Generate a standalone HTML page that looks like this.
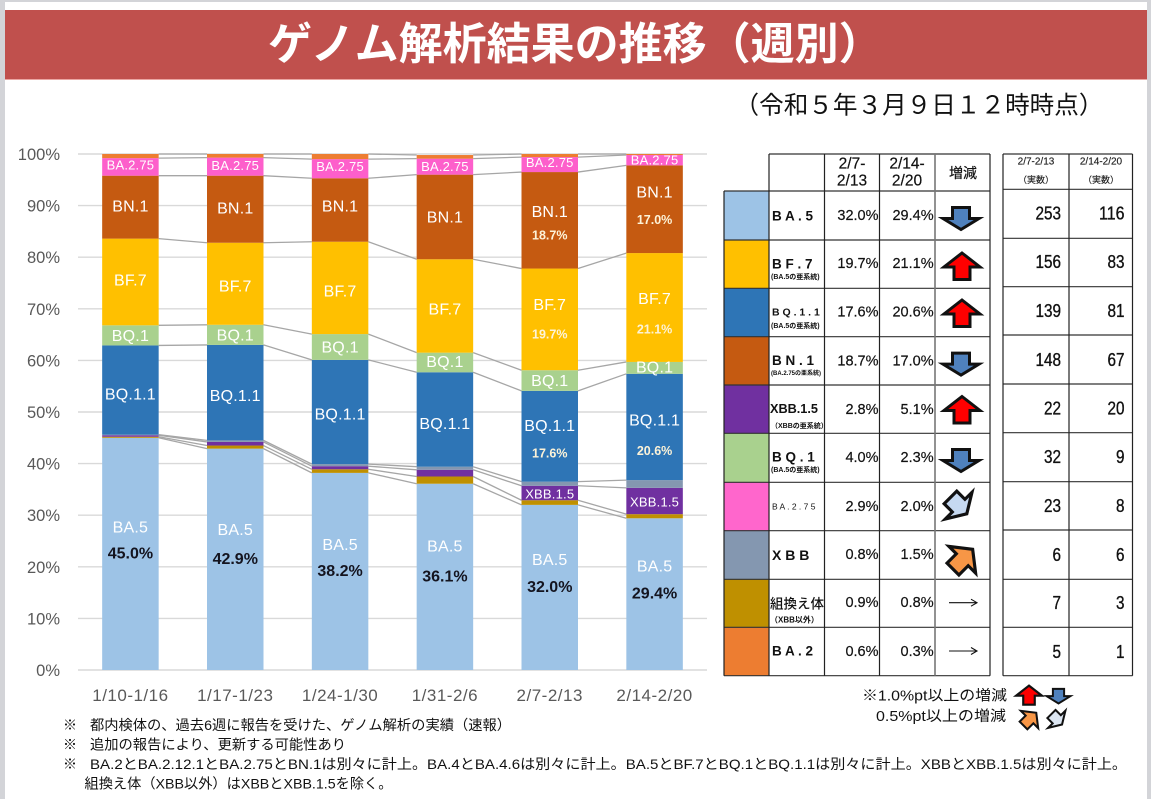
<!DOCTYPE html>
<html lang="ja">
<head>
<meta charset="utf-8">
<title>ゲノム解析結果の推移（週別）</title>
<style>
html,body{margin:0;padding:0;background:#fff;width:1151px;height:799px;overflow:hidden}
svg{display:block;font-family:"Liberation Sans","Noto Sans CJK JP",sans-serif}
text{dominant-baseline:central;transform:translateY(1px)}
.pct{font-size:14.5px;fill:#111;text-anchor:end;stroke:#111;stroke-width:.2}
.cnt{font-size:18.5px;fill:#111;text-anchor:end;stroke:#111;stroke-width:.35}
.nm{font-size:13.5px;fill:#111;font-weight:700}
.sub{font-size:7px;fill:#111;font-weight:700}
.note{font-size:14px;fill:#111}
.hd{font-size:15.5px;fill:#111;text-anchor:middle;stroke:#111;stroke-width:.2}
.hd2{font-size:10px;fill:#222;text-anchor:middle;stroke:#222;stroke-width:.15}
.gl{stroke:#333;stroke-width:1.2}
.gv{stroke:#222;stroke-width:1.2}
</style>
</head>
<body>
<svg id="root" width="1151" height="799" viewBox="0 0 1151 799" xmlns="http://www.w3.org/2000/svg">
  <defs>
    <path id="a-down" d="M-8.5,-11.5 H8.5 V-.5 H18 L0,10.5 L-18,-.5 H-8.5 Z" stroke="#111" stroke-width="3" stroke-linejoin="miter"/>
    <path id="a-up" d="M0,-13 L18,1 H8 V13.5 H-8 V1 H-18 Z" stroke="#111" stroke-width="3" stroke-linejoin="miter"/>
    <path id="a-thin" d="M-14,0 H13 M8,-3.5 L14,0 L8,3.5" fill="none" stroke="#111" stroke-width="1.1"/>
  </defs>

  <rect x="0" y="0" width="1151" height="799" fill="#fff"/>
  <rect x="0" y="0" width="5" height="799" fill="#d3d4d8"/>
  <rect x="1147" y="0" width="4" height="799" fill="#d3d4d8"/>
  <rect x="0" y="0" width="1151" height="2" fill="#d3d4d8"/>

  <rect x="5" y="10" width="1142" height="69" fill="#c0504d"/>
  <rect x="5" y="79" width="1142" height="1" fill="#eba6a3"/>
  <text x="268" y="43.5" font-size="44" font-weight="700" fill="#fff">ゲノム解析結果の推移（週別）</text>
  <text x="919" y="105" font-size="24.6" fill="#111" text-anchor="middle">（令和５年３月９日１２時時点）</text>

  <g id="chart"></g>

  <!-- share table -->
  <g>
    <rect x="724" y="191" width="45" height="49" fill="#9dc3e6"/>
    <rect x="724" y="240" width="45" height="48.3" fill="#ffc000"/>
    <rect x="724" y="288.3" width="45" height="48.4" fill="#2e75b6"/>
    <rect x="724" y="336.7" width="45" height="48.3" fill="#c55a11"/>
    <rect x="724" y="385" width="45" height="48.3" fill="#7030a0"/>
    <rect x="724" y="433.3" width="45" height="49" fill="#a9d18e"/>
    <rect x="724" y="482.3" width="45" height="48.4" fill="#ff66cc"/>
    <rect x="724" y="530.7" width="45" height="48.6" fill="#8497b0"/>
    <rect x="724" y="579.3" width="45" height="48" fill="#bf9000"/>
    <rect x="724" y="627.3" width="45" height="48.4" fill="#ed7d31"/>

    <path class="gl" d="M769,154 H990 M724,191 H990 M724,240 H990 M724,288.3 H990 M724,336.7 H990 M724,385 H990 M724,433.3 H990 M724,482.3 H990 M724,530.7 H990 M724,579.3 H990 M724,627.3 H990 M724,675.7 H990" fill="none"/>
    <path class="gv" d="M724,191 V675.7 M769,154 V675.7 M824.5,154 V675.7 M879.5,154 V675.7 M990,154 V675.7" fill="none"/>
    <path d="M935,154 V675.7" stroke="#777" stroke-width="1.6" fill="none"/>

    <text class="hd" x="852" y="163">2/7-</text>
    <text class="hd" x="852" y="180">2/13</text>
    <text class="hd" x="907" y="163">2/14-</text>
    <text class="hd" x="907" y="180">2/20</text>
    <text class="hd" x="963" y="172" style="font-size:14px">増減</text>

    <text class="nm" x="772" y="215" xml:space="preserve">B A . 5</text>
    <text class="nm" x="772" y="263" xml:space="preserve">B F . 7</text>
    <text class="sub" x="771" y="276.5">(BA.5の亜系統)</text>
    <text class="nm" x="772" y="311.7" style="font-size:10.5px" xml:space="preserve">B Q . 1 . 1</text>
    <text class="sub" x="771" y="325.7">(BA.5の亜系統)</text>
    <text class="nm" x="772" y="359.7" xml:space="preserve">B N . 1</text>
    <text class="sub" x="771" y="373" style="font-size:6px">(BA.2.75の亜系統)</text>
    <text class="nm" x="770" y="408" style="font-size:12.7px">XBB.1.5</text>
    <text class="sub" x="771" y="425.7">（XBBの亜系統）</text>
    <text class="nm" x="772" y="456" xml:space="preserve">B Q . 1</text>
    <text class="sub" x="771" y="469.7">(BA.5の亜系統)</text>
    <text class="nm" x="772" y="505.7" style="font-size:8.5px;font-weight:400" xml:space="preserve">B A . 2 . 7 5</text>
    <text class="nm" x="772" y="554" style="font-size:14px" xml:space="preserve">X B B</text>
    <text class="nm" x="770" y="603" style="font-weight:500">組換え体</text>
    <text class="sub" x="770" y="619" style="font-size:8px">（XBB以外）</text>
    <text class="nm" x="772" y="650" xml:space="preserve">B A . 2</text>

    <text class="pct" x="878.5" y="215">32.0%</text>
    <text class="pct" x="933.6" y="215">29.4%</text>
    <text class="pct" x="878.5" y="263">19.7%</text>
    <text class="pct" x="933.6" y="263">21.1%</text>
    <text class="pct" x="878.5" y="311.7">17.6%</text>
    <text class="pct" x="933.6" y="311.7">20.6%</text>
    <text class="pct" x="878.5" y="360.7">18.7%</text>
    <text class="pct" x="933.6" y="360.7">17.0%</text>
    <text class="pct" x="878.5" y="409">2.8%</text>
    <text class="pct" x="933.6" y="409">5.1%</text>
    <text class="pct" x="878.5" y="457">4.0%</text>
    <text class="pct" x="933.6" y="457">2.3%</text>
    <text class="pct" x="878.5" y="506">2.9%</text>
    <text class="pct" x="933.6" y="506">2.0%</text>
    <text class="pct" x="878.5" y="554">0.8%</text>
    <text class="pct" x="933.6" y="554">1.5%</text>
    <text class="pct" x="878.5" y="602">0.9%</text>
    <text class="pct" x="933.6" y="602">0.8%</text>
    <text class="pct" x="878.5" y="651">0.6%</text>
    <text class="pct" x="933.6" y="651">0.3%</text>

    <use href="#a-down" transform="translate(961,219)" fill="#4f81bd"/>
    <use href="#a-up" transform="translate(962,266)" fill="#ff0000"/>
    <use href="#a-up" transform="translate(962,313)" fill="#ff0000"/>
    <use href="#a-down" transform="translate(961,364.6)" fill="#4f81bd"/>
    <use href="#a-up" transform="translate(962,409.5)" fill="#ff0000"/>
    <use href="#a-down" transform="translate(961,461)" fill="#4f81bd"/>
    <use href="#a-down" transform="translate(959,506) rotate(-45) scale(1.05)" fill="#c6d9f1"/>
    <use href="#a-up" transform="translate(963,559) rotate(45) scale(1.05)" fill="#f79646"/>
    <use href="#a-thin" transform="translate(963,602.7)"/>
    <use href="#a-thin" transform="translate(963,651)"/>
  </g>

  <!-- count table -->
  <g>
    <path class="gl" d="M1003,154 H1132.5 M1003,189.3 H1132.5 M1003,238.3 H1132.5 M1003,286.7 H1132.5 M1003,335 H1132.5 M1003,384 H1132.5 M1003,432.7 H1132.5 M1003,481.7 H1132.5 M1003,530 H1132.5 M1003,579.3 H1132.5 M1003,627.3 H1132.5 M1003,675.7 H1132.5" fill="none"/>
    <path class="gv" d="M1003,154 V675.7 M1069,154 V675.7 M1132.5,154 V675.7" fill="none"/>
    <text class="hd2" x="1036" y="161">2/7-2/13</text>
    <text class="hd2" x="1036" y="179" style="font-size:9px">（実数）</text>
    <text class="hd2" x="1101" y="161">2/14-2/20</text>
    <text class="hd2" x="1101" y="179" style="font-size:9px">（実数）</text>

    <text class="cnt" x="1061" y="212" textLength="25.5" lengthAdjust="spacingAndGlyphs">253</text>
    <text class="cnt" x="1124.5" y="212" textLength="25.5" lengthAdjust="spacingAndGlyphs">116</text>
    <text class="cnt" x="1061" y="260.7" textLength="25.5" lengthAdjust="spacingAndGlyphs">156</text>
    <text class="cnt" x="1124.5" y="260.7" textLength="17" lengthAdjust="spacingAndGlyphs">83</text>
    <text class="cnt" x="1061" y="309.7" textLength="25.5" lengthAdjust="spacingAndGlyphs">139</text>
    <text class="cnt" x="1124.5" y="309.7" textLength="17" lengthAdjust="spacingAndGlyphs">81</text>
    <text class="cnt" x="1061" y="358.3" textLength="25.5" lengthAdjust="spacingAndGlyphs">148</text>
    <text class="cnt" x="1124.5" y="358.3" textLength="17" lengthAdjust="spacingAndGlyphs">67</text>
    <text class="cnt" x="1061" y="407" textLength="17" lengthAdjust="spacingAndGlyphs">22</text>
    <text class="cnt" x="1124.5" y="407" textLength="17" lengthAdjust="spacingAndGlyphs">20</text>
    <text class="cnt" x="1061" y="455.7" textLength="17" lengthAdjust="spacingAndGlyphs">32</text>
    <text class="cnt" x="1124.5" y="455.7" textLength="8.5" lengthAdjust="spacingAndGlyphs">9</text>
    <text class="cnt" x="1061" y="504.7" textLength="17" lengthAdjust="spacingAndGlyphs">23</text>
    <text class="cnt" x="1124.5" y="504.7" textLength="8.5" lengthAdjust="spacingAndGlyphs">8</text>
    <text class="cnt" x="1061" y="553.3" textLength="8.5" lengthAdjust="spacingAndGlyphs">6</text>
    <text class="cnt" x="1124.5" y="553.3" textLength="8.5" lengthAdjust="spacingAndGlyphs">6</text>
    <text class="cnt" x="1061" y="601.7" textLength="8.5" lengthAdjust="spacingAndGlyphs">7</text>
    <text class="cnt" x="1124.5" y="601.7" textLength="8.5" lengthAdjust="spacingAndGlyphs">3</text>
    <text class="cnt" x="1061" y="650.7" textLength="8.5" lengthAdjust="spacingAndGlyphs">5</text>
    <text class="cnt" x="1124.5" y="650.7" textLength="8.5" lengthAdjust="spacingAndGlyphs">1</text>
  </g>

  <!-- arrow key -->
  <g>
    <text x="862" y="695.5" font-size="14.5" fill="#111" textLength="145" lengthAdjust="spacingAndGlyphs">※1.0%pt以上の増減</text>
    <use href="#a-up" transform="translate(1029,695) scale(.72)" fill="#ff0000"/>
    <use href="#a-down" transform="translate(1058.5,696.5) scale(.66)" fill="#4f81bd"/>
    <text x="876" y="716" font-size="14.5" fill="#111" textLength="130" lengthAdjust="spacingAndGlyphs">0.5%pt以上の増減</text>
    <use href="#a-up" transform="translate(1030,719) rotate(45) scale(.68)" fill="#f79646"/>
    <use href="#a-down" transform="translate(1057,719.5) rotate(-45) scale(.68)" fill="#dce6f2"/>
  </g>

  <!-- footnotes -->
  <g>
    <text class="note" x="63" y="724">※</text>
    <text class="note" x="90" y="724" textLength="421" lengthAdjust="spacingAndGlyphs">都内検体の、過去6週に報告を受けた、ゲノム解析の実績（速報）</text>
    <text class="note" x="63" y="743.5">※</text>
    <text class="note" x="90" y="743.5" textLength="256" lengthAdjust="spacingAndGlyphs">追加の報告により、更新する可能性あり</text>
    <text class="note" x="63" y="763">※</text>
    <text class="note" x="90" y="763" textLength="1037" lengthAdjust="spacingAndGlyphs">BA.2とBA.2.12.1とBA.2.75とBN.1は別々に計上。BA.4とBA.4.6は別々に計上。BA.5とBF.7とBQ.1とBQ.1.1は別々に計上。XBBとXBB.1.5は別々に計上。</text>
    <text class="note" x="84.5" y="782.5" textLength="308" lengthAdjust="spacingAndGlyphs">組換え体（XBB以外）はXBBとXBB.1.5を除く。</text>
  </g>
</svg>

<script>
// ---- chart data (percent share per week, bottom to top) ----
const categories = ['1/10-1/16', '1/17-1/23', '1/24-1/30', '1/31-2/6', '2/7-2/13', '2/14-2/20'];
const yTicks = [0, 10, 20, 30, 40, 50, 60, 70, 80, 90, 100];
const seriesNames = ['BA.5', '組換え体', 'XBB.1.5', 'XBB', 'BQ.1.1', 'BQ.1', 'BF.7', 'BN.1', 'BA.2.75', 'BA.2'];
const ba5 = [45.0, 42.9, 38.2, 36.1, 32.0, 29.4];
const recombinant = [0.2, 0.6, 0.7, 1.4, 0.9, 0.8];
const xbb15 = [0.3, 0.7, 0.6, 1.3, 2.8, 5.1];
const xbb = [0.1, 0.3, 0.4, 0.6, 0.8, 1.5];
const bq11 = [17.3, 18.5, 20.2, 18.3, 17.6, 20.6];
const bq1 = [3.9, 3.9, 5.0, 3.8, 4.0, 2.3];
const bf7 = [16.8, 15.9, 17.9, 18.1, 19.7, 21.1];
const bn1 = [12.2, 13.0, 12.3, 16.4, 18.7, 17.0];
const ba275 = [3.4, 3.5, 3.7, 3.1, 2.9, 2.0];
const ba2 = [0.8, 0.7, 1.0, 0.7, 0.6, 0.2];
const seriesValues = [ba5, recombinant, xbb15, xbb, bq11, bq1, bf7, bn1, ba275, ba2];

// ---- presentation ----
const seriesColors = ['#9dc3e6', '#bf9000', '#7030a0', '#8497b0', '#2e75b6', '#a9d18e', '#ffc000', '#c55a11', '#fd5fcb', '#ed7d31'];
const seriesSlugs = ['ba5', 'recombinant', 'xbb15', 'xbb', 'bq11', 'bq1', 'bf7', 'bn1', 'ba275', 'ba2'];
const nameNudge = {
  0: [-27, -30, -27, -31, -28, -28],
  2: [null, null, null, null, 0, 0],
  4: [4, 3, 2, 4, -11, -7],
  5: [0, 0, 0, -1, 0, -1],
  6: [-2, 2, 3, 3, -15, -9],
  7: [-1, -1, -4, 0, -9, -17],
  8: [-3, -2, -3, -1, -3, -1]
};
const pctNudge = {
  0: [-1, -1, -1, -1, -1, -1],
  4: [null, null, null, null, 16, 23],
  6: [null, null, null, null, 14, 21],
  7: [null, null, null, null, 14, 10]
};
const plotLeft = 78, plotRight = 707, plotTop = 154, plotBottom = 670, barWidth = 56.5;
const NS = 'http://www.w3.org/2000/svg';
const chart = document.getElementById('chart');

function yScale(v) { return plotBottom - (plotBottom - plotTop) * v / 100; }
function xCenter(i) { return plotLeft + (plotRight - plotLeft) * (i + 0.5) / categories.length; }
function mk(tag, attrs, parent, txt) {
  const e = document.createElementNS(NS, tag);
  for (const k in attrs) e.setAttribute(k, attrs[k]);
  if (txt !== undefined) e.textContent = txt;
  parent.appendChild(e);
  return e;
}

// gridlines and y tick labels
yTicks.forEach(function (t) {
  const line = mk('line', { x1: plotLeft, x2: plotRight, y1: yScale(t), y2: yScale(t), stroke: '#d9d9d9', 'stroke-width': 1.4 }, chart);
  
  
  const lab = mk('text', { x: 60, y: yScale(t), 'text-anchor': 'end', 'font-size': 16.5, fill: '#595959' }, chart, t + '%');
  
  
});

// cumulative tops
const tops = categories.map(function (_, c) {
  let sum = 0;
  return seriesValues.map(function (s) { sum += s[c]; return sum; });
});

// connector lines between adjacent bars
for (let c = 0; c < categories.length - 1; c++) {
  seriesValues.forEach(function (s, k) {
    const conn = mk('line', {
      x1: xCenter(c) + barWidth / 2, y1: yScale(tops[c][k]),
      x2: xCenter(c + 1) - barWidth / 2, y2: yScale(tops[c + 1][k]),
      stroke: '#a6a6a6', 'stroke-width': 1.3
    }, chart);
    
    
  });
}

// stacked bars and labels
categories.forEach(function (cat, c) {
  seriesValues.forEach(function (s, k) {
    const top = tops[c][k];
    const bottom = top - s[c];
    const r = mk('rect', {
      x: xCenter(c) - barWidth / 2, y: yScale(Math.min(top, 100)),
      width: barWidth, height: yScale(bottom) - yScale(Math.min(top, 100)),
      fill: seriesColors[k]
    }, chart);
    
    
  });
  const xl = mk('text', { x: xCenter(c), y: 694.5, 'text-anchor': 'middle', 'font-size': 17, 'letter-spacing': 0.5, fill: '#595959' }, chart, cat);
  
  
});

categories.forEach(function (cat, c) {
  Object.keys(nameNudge).forEach(function (key) {
    const k = +key;
    const dy = nameNudge[k][c];
    if (dy === null) return;
    const mid = yScale(tops[c][k] - seriesValues[k][c] / 2);
    const small = k === 8 || k === 2;
    const t = mk('text', {
      x: xCenter(c), y: mid + dy, 'text-anchor': 'middle',
      'font-size': small ? 13 : 16, 'letter-spacing': small ? 0.2 : 0.2, fill: '#fff'
    }, chart, seriesNames[k]);
    
    
  });
  Object.keys(pctNudge).forEach(function (key) {
    const k = +key;
    const dy = pctNudge[k][c];
    if (dy === null) return;
    const mid = yScale(tops[c][k] - seriesValues[k][c] / 2);
    const dark = k === 0;
    const t = mk('text', {
      x: xCenter(c), y: mid + dy, 'text-anchor': 'middle', 'font-weight': 700,
      'font-size': dark ? 16 : 12.5, fill: dark ? '#14141f' : '#fdf3d8'
    }, chart, seriesValues[k][c].toFixed(1) + '%');
    
    
  });
});
</script>
</body>
</html>
